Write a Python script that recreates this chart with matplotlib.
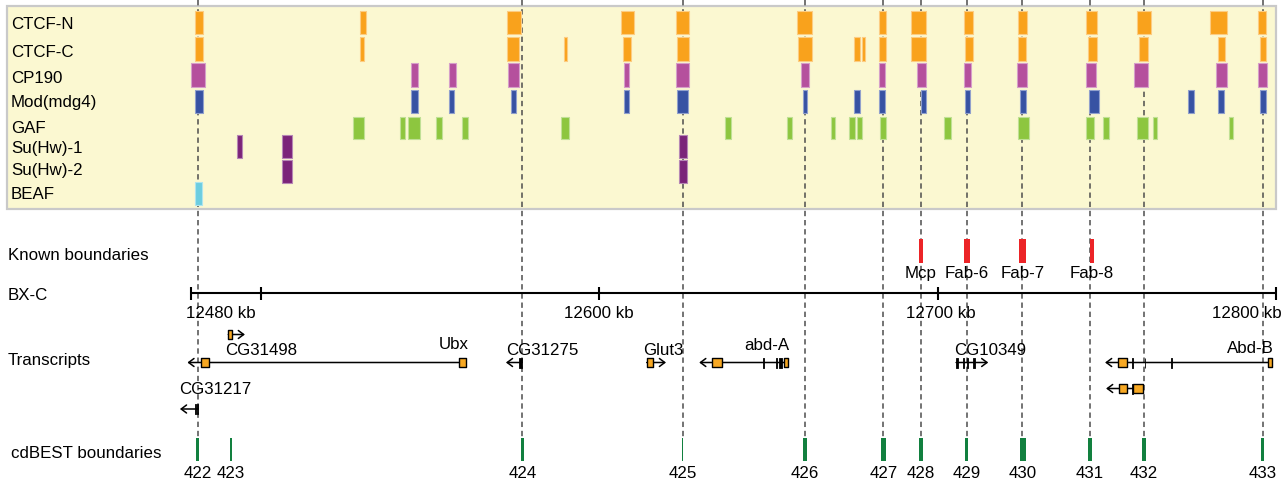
import matplotlib
matplotlib.use('Agg')
import matplotlib.pyplot as plt
import matplotlib.colors as mcolors
import matplotlib.transforms as mtransforms

plt.rcParams['font.family'] = ['Liberation Sans', 'DejaVu Sans']

# ---------------- data: genomic coordinates in kb ----------------
track_names = ['CTCF-N', 'CTCF-C', 'CP190', 'Mod(mdg4)', 'GAF', 'Su(Hw)-1', 'Su(Hw)-2', 'BEAF']

ctcf_n = [(12480.7, 12483.1), (12529.3, 12531.1), (12572.7, 12576.9), (12606.6, 12610.3),
          (12622.7, 12626.7), (12658.4, 12662.9), (12682.6, 12684.9), (12692.2, 12696.7),
          (12707.7, 12710.5), (12723.8, 12726.5), (12744.0, 12747.1), (12759.0, 12763.1),
          (12780.6, 12785.5), (12794.8, 12797.0)]
ctcf_c = [(12480.7, 12483.1), (12529.3, 12530.6), (12572.7, 12576.5), (12589.7, 12590.6),
          (12607.0, 12609.4), (12623.0, 12626.7), (12658.8, 12662.9), (12675.3, 12677.1),
          (12677.6, 12678.5), (12682.6, 12684.9), (12692.2, 12696.7), (12708.2, 12710.5),
          (12723.8, 12726.1), (12744.5, 12747.1), (12759.5, 12762.2), (12782.9, 12785.0),
          (12795.2, 12797.0)]
cp190 = [(12479.4, 12483.5), (12544.4, 12546.6), (12555.8, 12557.7), (12573.2, 12576.5),
         (12607.5, 12608.9), (12622.7, 12626.7), (12659.7, 12662.0), (12682.6, 12684.4),
         (12694.0, 12696.7), (12707.7, 12710.0), (12723.4, 12726.5), (12744.0, 12746.7),
         (12758.1, 12762.2), (12782.4, 12785.5), (12794.8, 12797.4)]
mod_mdg4 = [(12480.7, 12483.1), (12544.4, 12546.6), (12555.8, 12557.3), (12574.1, 12575.5),
            (12607.5, 12608.9), (12623.0, 12626.3), (12660.2, 12661.5), (12675.3, 12677.1),
            (12682.6, 12684.4), (12695.0, 12696.7), (12708.2, 12709.6), (12724.3, 12726.1),
            (12744.8, 12747.6), (12774.1, 12775.9), (12782.9, 12784.6), (12795.2, 12797.0)]
gaf = [(12527.4, 12530.6), (12541.2, 12542.6), (12543.5, 12547.1), (12551.8, 12553.5),
       (12559.5, 12561.3), (12588.8, 12591.0), (12637.3, 12639.1), (12655.6, 12657.0),
       (12668.4, 12669.8), (12673.9, 12675.7), (12676.2, 12677.6), (12683.1, 12684.9),
       (12701.8, 12704.1), (12723.8, 12726.9), (12744.0, 12746.2), (12749.0, 12750.8),
       (12759.0, 12762.2), (12763.6, 12764.9), (12786.0, 12787.4)]
suhw_1 = [(12493.1, 12494.5), (12506.4, 12509.2), (12623.5, 12625.9)]
suhw_2 = [(12506.4, 12509.2), (12623.5, 12625.9)]
beaf = [(12480.7, 12482.6)]
track_data = [ctcf_n, ctcf_c, cp190, mod_mdg4, gaf, suhw_1, suhw_2, beaf]

known_names = ['Mcp', 'Fab-6', 'Fab-7', 'Fab-8']
known_start = [12694.4, 12707.8, 12724.2, 12745.0]
known_end = [12695.7, 12709.6, 12726.1, 12746.1]

cdbest_ids = ['422', '423', '424', '425', '426', '427', '428', '429', '430', '431', '432', '433']
cdbest_start = [12480.9, 12490.9, 12576.9, 12624.6, 12660.2, 12683.2, 12694.5, 12708.2,
                12724.4, 12744.4, 12760.4, 12795.7]
cdbest_end = [12481.9, 12491.6, 12577.8, 12624.9, 12661.5, 12684.8, 12695.7, 12709.0,
              12726.1, 12745.6, 12761.7, 12796.5]

boundary_lines = [12481.4, 12577.3, 12624.7, 12660.9, 12683.9, 12695.1, 12708.6, 12725.1,
                  12745.0, 12761.0, 12796.2]

scale_start, scale_end = 12479.5, 12800.0
scale_ticks = [12500, 12600, 12700]
scale_labels = ['12480 kb', '12600 kb', '12700 kb', '12800 kb']
scale_label_pos = [12488.2, 12600.0, 12701.0, 12791.3]

tx_names = ['Ubx', 'CG31498', 'CG31217', 'CG31275', 'Glut3', 'abd-A', 'CG10349', 'Abd-B', '']
tx_tip = [12478.4, 12495.4, 12476.2, 12572.5, 12619.8, 12629.6, 12715.0, 12749.5, 12749.8]
tx_tail = [12560.7, 12490.5, 12481.6, 12577.2, 12614.1, 12655.9, 12705.5, 12798.7, 12760.6]
tx_orange = [[(12482.3, 12484.8), (12558.6, 12560.7)],
             [(12490.5, 12491.6)],
             [],
             [],
             [(12614.1, 12615.9)],
             [(12633.5, 12636.2), (12654.6, 12655.9)],
             [],
             [(12753.2, 12755.9), (12797.5, 12798.7)],
             [(12753.7, 12755.9), (12757.8, 12760.6)]]
tx_black = [[],
            [],
            [(12480.6, 12480.9), (12481.2, 12481.5)],
            [(12576.5, 12577.2)],
            [],
            [(12648.4, 12648.6), (12652.3, 12652.7), (12653.1, 12654.2)],
            [(12705.5, 12706.0), (12707.5, 12707.9), (12708.7, 12709.1), (12710.6, 12711.0)],
            [(12757.4, 12757.9), (12761.2, 12761.4), (12769.1, 12769.3)],
            [(12757.4, 12757.8)]]
tx_label_pos = [12557.0, 12500.3, 12486.7, 12583.2, 12618.9, 12649.6, 12715.4, 12792.3, 0]

# ---------------- styling / layout (figure pixel rows) ----------------
track_colors = ['#F9A21C', '#F9A21C', '#B5509D', '#3752A3', '#8DC63F', '#7B2479', '#7B2479', '#6CCDE0']
track_rows = [(11, 23), (37, 24), (63, 24), (90, 23), (117, 22), (135, 23), (160, 23), (182, 23)]
track_label_y = [29.3, 57.3, 83.0, 106.7, 133.3, 152.7, 175.0, 199.3]
tx_row_y = [362.5, 334.5, 409.0, 362.5, 362.5, 362.5, 362.5, 362.5, 388.5]
tx_label_y = [349.3, 355.0, 394.0, 355.0, 355.0, 350.0, 355.0, 353.0, 0]

W, H = 1287, 478
FS = 12.2
fig = plt.figure(figsize=(W / 100, H / 100), dpi=100)
ax = fig.add_axes([0, 0, 1, 1])
px_per_kb = 3.385
x0 = 12600 - 599 / px_per_kb
ax.set_xlim(x0, x0 + W / px_per_kb)
ax.set_ylim(H, 0)
ax.axis('off')
blend = mtransforms.blended_transform_factory(ax.transAxes, ax.transData)


def lighter(c, f=0.45):
    r, g, b = mcolors.to_rgb(c)
    return (r + (1 - r) * f, g + (1 - g) * f, b + (1 - b) * f)


# panel background
panel = plt.Rectangle((7 / W, 6), (1276 - 7) / W, 203, transform=blend,
                      facecolor='#FBF8D1', edgecolor='#C9C9C9', lw=1.6, zorder=0)
ax.add_patch(panel)

# dashed boundary lines
ax.vlines(boundary_lines, 0, 437, colors='#4D4D4D', linestyles=(0, (3.5, 2.5)), lw=1.1, zorder=1)

# protein tracks
for name, data, col, (top, h), ly in zip(track_names, track_data, track_colors, track_rows, track_label_y):
    ax.broken_barh([(s, e - s) for s, e in data], (top, h), facecolors=col,
                   edgecolor=lighter(col), lw=0.8, zorder=2)
    ax.text(11 / W, ly, name, transform=blend, fontsize=FS, va='baseline', ha='left')

# known boundaries
ax.text(7.5 / W, 260, 'Known boundaries', transform=blend, fontsize=FS, va='baseline', ha='left')
ax.broken_barh([(s, e - s) for s, e in zip(known_start, known_end)], (239, 24),
               facecolors='#EC2427', zorder=2)
for n, s, e in zip(known_names, known_start, known_end):
    ax.text((s + e) / 2, 278, n, fontsize=FS, va='baseline', ha='center')

# BX-C scale
ax.text(7.5 / W, 300, 'BX-C', transform=blend, fontsize=FS, va='baseline', ha='left')
ax.hlines(293, scale_start, scale_end, colors='black', lw=1.5, zorder=2)
ax.vlines([scale_start] + scale_ticks + [scale_end], 286.5, 299.5, colors='black', lw=1.5, zorder=2)
for lab, pos in zip(scale_labels, scale_label_pos):
    ax.text(pos, 317.8, lab, fontsize=FS, va='baseline', ha='center')

# transcripts
ax.text(7.5 / W, 365, 'Transcripts', transform=blend, fontsize=FS, va='baseline', ha='left')
for name, tip, tail, oex, bex, y, lx, lyy in zip(tx_names, tx_tip, tx_tail, tx_orange, tx_black,
                                                  tx_row_y, tx_label_pos, tx_label_y):
    ax.annotate('', xy=(tip, y), xytext=(tail, y), zorder=3,
                arrowprops=dict(arrowstyle='->,head_length=0.32,head_width=0.24', lw=1.1,
                                color='black', shrinkA=0, shrinkB=0, mutation_scale=12))
    if oex:
        ax.broken_barh([(s, e - s) for s, e in oex], (y - 4.5, 9), facecolors='#F7A823',
                       edgecolor='black', lw=1.0, zorder=4)
    if bex:
        ax.broken_barh([(s, e - s) for s, e in bex], (y - 5, 10), facecolors='black',
                       edgecolor='black', lw=0.6, zorder=4)
    if name:
        ax.text(lx, lyy, name, fontsize=FS, va='baseline', ha='center')

# cdBEST boundaries
ax.text(11 / W, 458, 'cdBEST boundaries', transform=blend, fontsize=FS, va='baseline', ha='left')
ax.broken_barh([(s, e - s) for s, e in zip(cdbest_start, cdbest_end)], (438, 23),
               facecolors='#12803F', zorder=2)
for n, s, e in zip(cdbest_ids, cdbest_start, cdbest_end):
    ax.text((s + e) / 2, 477.5, n, fontsize=FS, va='baseline', ha='center')

fig.savefig('out.png', dpi=100)
